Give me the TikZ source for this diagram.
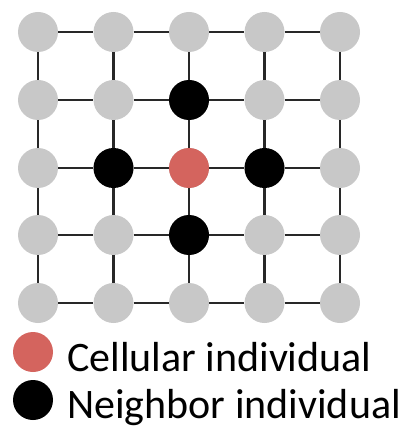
\documentclass[tikz,border=0pt]{standalone}
\usepackage{fontspec}
\setmainfont{Carlito}
\definecolor{cellgray}{RGB}{200,200,200}
\definecolor{cellred}{RGB}{212,100,94}
\definecolor{linkgray}{RGB}{40,40,40}
\begin{document}
\begin{tikzpicture}[x=1pt,y=-1pt,
  cell/.style={circle,inner sep=0pt,minimum size=40pt,fill=cellgray},
  centre/.style={cell,fill=cellred},
  neighbor/.style={cell,fill=black},
  link/.style={draw=linkgray,line width=2.4pt},
  legendtext/.style={anchor=base west,inner sep=0pt,font=\fontsize{42}{47}\selectfont}]
\useasboundingbox (0,0) rectangle (402,430);
% 5x5 lattice of individuals
\foreach \i/\x in {1/38,2/113.5,3/189,4/264.5,5/340}{
  \foreach \j/\y in {1/32,2/100,3/168,4/235,5/303}{
    \node[cell] (c\i\j) at (\x,\y) {};
  }
}
% the focal cell and its von Neumann neighbourhood
\node[centre] at (c33) {};
\node[neighbor] at (c32) {};
\node[neighbor] at (c23) {};
\node[neighbor] at (c43) {};
\node[neighbor] at (c34) {};
% lattice links
\foreach \i/\n in {1/2,2/3,3/4,4/5}{
  \foreach \j in {1,...,5}{
    \draw[link] (c\i\j) -- (c\n\j);
    \draw[link] (c\j\i) -- (c\j\n);
  }
}
% legend
\node[cell,fill=cellred] (lred) at (33,352) {};
\node[cell,fill=black] (lblack) at (33,400) {};
\node[legendtext] (tred) at (67,371) {Cellular individual};
\node[legendtext] (tblack) at (67,418) {Neighbor individual};
\end{tikzpicture}
\end{document}
